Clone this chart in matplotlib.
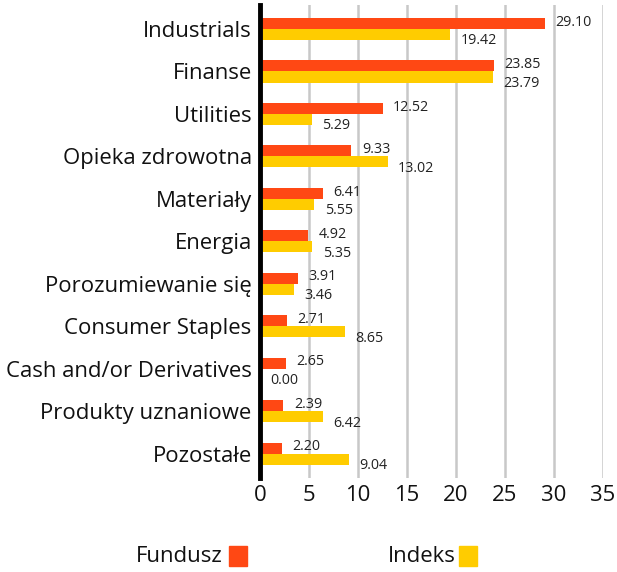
import matplotlib
matplotlib.use("Agg")
import matplotlib.pyplot as plt
from matplotlib.patches import Rectangle
from matplotlib.textpath import TextPath
from matplotlib.font_manager import FontProperties
import numpy as np

categories = ["Industrials", "Finanse", "Utilities", "Opieka zdrowotna", "Materiały",
              "Energia", "Porozumiewanie się", "Consumer Staples",
              "Cash and/or Derivatives", "Produkty uznaniowe", "Pozostałe"]
fundusz = [29.10, 23.85, 12.52, 9.33, 6.41, 4.92, 3.91, 2.71, 2.65, 2.39, 2.20]
indeks = [19.42, 23.79, 5.29, 13.02, 5.55, 5.35, 3.46, 8.65, 0.00, 6.42, 9.04]
xticks = [0, 5, 10, 15, 20, 25, 30, 35]

RED = "#FF4814"
YEL = "#FFCC00"
FAM = ['Open Sans', 'DejaVu Sans']
plt.rcParams['font.family'] = FAM


def fit_size(text, target_px, dpi=100):
    tp = TextPath((0, 0), text, size=10, prop=FontProperties(family=FAM))
    w = tp.get_extents().width  # in points at size 10
    return 10 * target_px / (w * dpi / 72)


fs_main = fit_size("Cash and/or Derivatives", 243)
fs_val = fit_size("29.10", 35)

fig = plt.figure(figsize=(6.17, 5.72), dpi=100)
W, H = 617, 572
ax = fig.add_axes([260 / W, 1 - 478 / H, (603 - 260) / W, (478 - 5) / H])

y = np.arange(len(categories))
bh = 0.26
ax.barh(y - bh / 2, fundusz, height=bh, color=RED, zorder=3)
ax.barh(y + bh / 2, indeks, height=bh, color=YEL, zorder=3)

for i in range(len(categories)):
    ax.annotate(f"{fundusz[i]:.2f}", (fundusz[i], y[i] - bh / 2), xytext=(7.5, 1),
                textcoords="offset points", ha="left", va="center", fontsize=fs_val, color="#222222")
    ax.annotate(f"{indeks[i]:.2f}", (indeks[i], y[i] + bh / 2), xytext=(7.5, -4.5),
                textcoords="offset points", ha="left", va="center", fontsize=fs_val, color="#222222")

ax.set_xlim(0, 35)
ax.set_ylim(len(categories) - 1 + 0.57, -0.565)
ax.set_xticks(xticks)
ax.set_xticklabels([str(t) for t in xticks], fontsize=fs_main, color="#111111")
ax.set_yticks(y)
ax.set_yticklabels(categories, fontsize=fs_main, color="#111111")
ax.tick_params(axis='y', length=0, pad=6)
ax.tick_params(axis='x', length=0, pad=5)
ax.xaxis.grid(True, color="#c8c8c8", linewidth=1.8, zorder=0)
for s in ["top", "right", "bottom"]:
    ax.spines[s].set_visible(False)
ax.spines["left"].set_linewidth(3.5)
ax.spines["left"].set_color("black")
ax.spines["left"].set_zorder(5)

# legend
fig.text(223 / W, 1 - 556 / H, "Fundusz", ha="right", va="center", fontsize=fs_main, color="#111111")
fig.patches.append(Rectangle((229 / W, 1 - 566 / H), 18 / W, 20 / H, transform=fig.transFigure,
                             color=RED, figure=fig))
fig.text(456 / W, 1 - 556 / H, "Indeks", ha="right", va="center", fontsize=fs_main, color="#111111")
fig.patches.append(Rectangle((459 / W, 1 - 566 / H), 18 / W, 20 / H, transform=fig.transFigure,
                             color=YEL, figure=fig))

fig.savefig("out.png", dpi=100)
